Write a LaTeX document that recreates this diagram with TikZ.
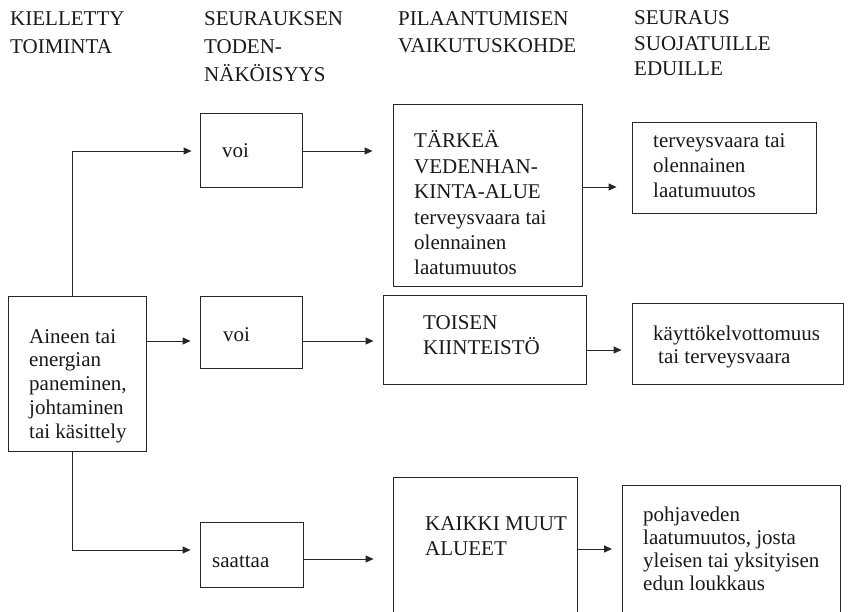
\documentclass[tikz,border=0pt]{standalone}
\usepackage{fontspec}
\setmainfont{Liberation Serif}
\usetikzlibrary{arrows.meta}
\newcommand{\boxfont}[1]{\fontsize{21}{#1}\selectfont}
\tikzset{
  box/.style={draw=black!85, line width=0.9pt, inner sep=0pt},
  arr/.style={draw=black!85, line width=0.9pt, -{Triangle[length=8pt,width=7pt]}},
  % multi-line texts are anchored at the baseline of their last line
  txt/.style={inner sep=0pt, align=left, anchor=base west, text=black!90},
}
\begin{document}
\begin{tikzpicture}[x=1pt, y=-1pt]
\useasboundingbox (0,0) rectangle (849,612);
\clip (0,0) rectangle (849,612);
\fill[white] (0,0) rectangle (849,612);

% column headings
\node[txt, font={\boxfont{27.5}}] (h1) at (10,53.5) {KIELLETTY\\TOIMINTA};
\node[txt, font={\boxfont{28}}] (h2) at (204,82) {SEURAUKSEN\\TODEN-\\NÄKÖISYYS};
\node[txt, font={\boxfont{27}}] (h3) at (398,53) {PILAANTUMISEN\\VAIKUTUSKOHDE};
\node[txt, font={\boxfont{25.5}}] (h4) at (634,76) {SEURAUS\\SUOJATUILLE\\EDUILLE};

% boxes
\node[box, minimum width=138pt, minimum height=155pt] (src) at (77,373.5) {};
\node[box, minimum width=102pt, minimum height=74pt] (v1) at (251,150) {};
\node[box, minimum width=102pt, minimum height=72pt] (v2) at (251,332) {};
\node[box, minimum width=103pt, minimum height=65pt] (s) at (251.5,554.5) {};
\node[box, minimum width=189pt, minimum height=182pt] (t) at (487.5,195) {};
\node[box, minimum width=203pt, minimum height=89pt] (k) at (484.5,339.5) {};
\node[box, minimum width=184pt, minimum height=163pt] (m) at (485,558.5) {};
\node[box, minimum width=184pt, minimum height=91pt] (r1) at (724,167.5) {};
\node[box, minimum width=211pt, minimum height=81pt] (r2) at (737.5,343.5) {};
\node[box, minimum width=218pt, minimum height=155pt] (r3) at (731.5,562.5) {};

% box texts
\node[txt, font={\boxfont{23.8}}] (srct) at (29,438.2) {Aineen tai\\energian\\paneminen,\\johtaminen\\tai käsittely};
\node[txt, font={\boxfont{24}}] (v1t) at (222,158) {voi};
\node[txt, font={\boxfont{24}}] (v2t) at (223,342) {voi};
\node[txt, font={\boxfont{24}}] (st) at (212,567) {saattaa};
\node[txt, font={\boxfont{25.4}}] (tt) at (414,275) {TÄRKEÄ\\VEDENHAN-\\KINTA-ALUE\\terveysvaara tai\\olennainen\\laatumuutos};
\node[txt, font={\boxfont{25}}] (r1t) at (653,198) {terveysvaara tai\\olennainen\\laatumuutos};
\node[txt, font={\boxfont{25}}] (kt) at (423,355) {TOISEN\\KIINTEISTÖ};
\node[txt, font={\boxfont{23}}] (r2t) at (653,363) {käyttökelvottomuus\\\hspace*{5pt}tai terveysvaara};
\node[txt, font={\boxfont{25}}] (mt) at (425,555) {KAIKKI MUUT\\ALUEET};
\node[txt, font={\boxfont{22.7}}] (r3t) at (643,590) {pohjaveden\\laatumuutos, josta\\yleisen tai yksityisen\\edun loukkaus};

% connectors
\draw[arr] ([xshift=-5pt]src.north) |- ([xshift=-8pt,yshift=-1pt]v1.west);
\draw[arr] ([yshift=32.5pt]src.east) -- ([xshift=-9pt,yshift=-9pt]v2.west);
\draw[arr] ([xshift=-5pt]src.south) |- ([xshift=-9pt,yshift=4.5pt]s.west);
\draw[arr] ([yshift=-1pt]v1.east) -- ([xshift=-20pt,yshift=-1pt]v1.east -| t.west);
\draw[arr] ([yshift=-9pt]v2.east) -- ([xshift=-9pt,yshift=-1.5pt]k.west);
\draw[arr] ([yshift=-4.5pt]s.east) -- ([xshift=-19pt,yshift=-4.5pt]s.east -| m.west);
\draw[arr] ([yshift=8pt]t.east) -- ([xshift=-15pt,yshift=8pt]t.east -| r1.west);
\draw[arr] ([yshift=-10.5pt]k.east) -- ([xshift=-10pt,yshift=-10.5pt]k.east -| r2.west);
\draw[arr] ([yshift=9.5pt]m.east) -- ([xshift=-10pt,yshift=9.5pt]m.east -| r3.west);
\end{tikzpicture}
\end{document}
